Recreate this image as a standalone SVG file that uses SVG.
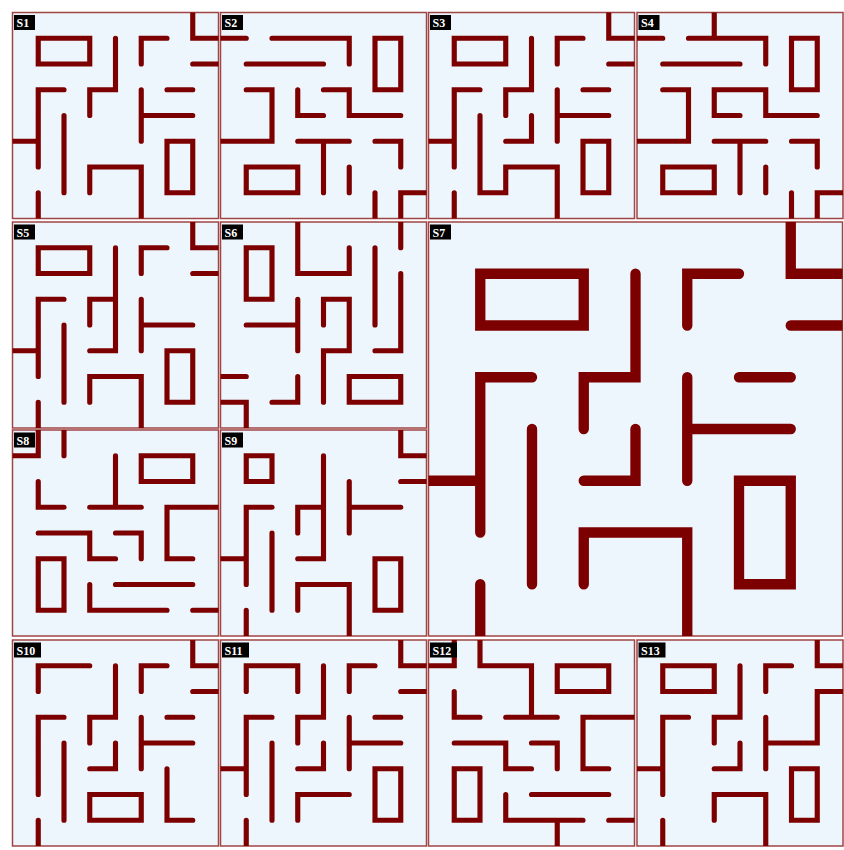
<svg xmlns="http://www.w3.org/2000/svg" width="844" height="850" viewBox="0 0 844 850">
<style>
.bg{fill:#eef6fd;stroke:#a04545;stroke-width:1.5}
.w{fill:none;stroke:#7d0000;stroke-width:0.2;stroke-linecap:round;stroke-linejoin:miter}
.lb{fill:#000}
.lt{fill:#fff;font-family:"Liberation Serif",serif;font-weight:bold;font-size:12px}
</style>
<defs>
<clipPath id="cp" clipPathUnits="userSpaceOnUse"><rect x="0" y="0" width="8" height="8"/></clipPath>
</defs>
<rect width="844" height="850" fill="#fff"/>
<g id="S1" transform="translate(12.5,12.5)">
<rect class="bg" width="206" height="206"/>
<g transform="scale(25.75)" clip-path="url(#cp)"><path class="w" d="M7 0V1H8 M1 1H3V2H1Z M4 1V3H3V4 M6 1H5V2 M7 2H8 M2 3H1V6 M0 5H1 M2 4V7 M6 3H7 M5 3V5 M5 4H7 M6 5H7V7H6Z M3 7V6H5V8 M1 7V8"/></g>
<rect class="lb" x="1.5" y="2.5" width="21" height="15"/><text class="lt" x="4" y="14.5">S1</text>
</g>
<g id="S2" transform="translate(220.5,12.5)">
<rect class="bg" width="206" height="206"/>
<g transform="scale(25.75)" clip-path="url(#cp)"><path class="w" d="M0 1H1 M2 1H5V2 M6 1H7V3H6Z M1 2H4 M1 3H2V5H0 M3 3V4H4 M4 3H5V4H7 M3 5H5 M4 5V7 M6 5H7V6 M1 6H3V7H1Z M5 6V7 M6 7V8 M7 8V7H8"/></g>
<rect class="lb" x="1.5" y="2.5" width="21" height="15"/><text class="lt" x="4" y="14.5">S2</text>
</g>
<g id="S3" transform="translate(428.5,12.5)">
<rect class="bg" width="206" height="206"/>
<g transform="scale(25.75)" clip-path="url(#cp)"><path class="w" d="M7 0V1H8 M1 1H3V2H1Z M4 1V3H3V4 M6 1H5V2 M7 2H8 M2 3H1V6 M0 5H1 M6 3H7 M5 3V5 M5 4H7 M4 4V5H3 M2 4V7H3V6H5V8 M6 5H7V7H6Z M1 7V8"/></g>
<rect class="lb" x="1.5" y="2.5" width="21" height="15"/><text class="lt" x="4" y="14.5">S3</text>
</g>
<g id="S4" transform="translate(637,12.5)">
<rect class="bg" width="206" height="206"/>
<g transform="scale(25.75)" clip-path="url(#cp)"><path class="w" d="M3 0V1 M0 1H1 M2 1H5V2 M6 1H7V3H6Z M1 2H4 M1 3H2V5H0 M4 4H3V3H5V4H7 M3 5H5 M4 5V7 M6 5H7V6 M1 6H3V7H1Z M5 6V7 M6 7V8 M7 8V7H8"/></g>
<rect class="lb" x="1.5" y="2.5" width="21" height="15"/><text class="lt" x="4" y="14.5">S4</text>
</g>
<g id="S5" transform="translate(12.5,222)">
<rect class="bg" width="206" height="206"/>
<g transform="scale(25.75)" clip-path="url(#cp)"><path class="w" d="M7 0V1H8 M1 1H3V2H1Z M4 1V5H3 M4 3H3V4 M6 1H5V2 M7 2H8 M2 3H1V6 M0 5H1 M2 4V7 M5 3V5 M5 4H7 M6 5H7V7H6Z M3 7V6H5V8 M1 7V8"/></g>
<rect class="lb" x="1.5" y="2.5" width="21" height="15"/><text class="lt" x="4" y="14.5">S5</text>
</g>
<g id="S6" transform="translate(220.5,222)">
<rect class="bg" width="206" height="206"/>
<g transform="scale(25.75)" clip-path="url(#cp)"><path class="w" d="M3 0V2H5V1 M1 1H2V3H1Z M6 1V4 M7 0V1 M7 2V5H6 M3 3V5 M1 4H3 M4 4V3H5V5H4V7 M0 6H1 M3 6V7H2 M5 6H7V7H5Z M0 7H1V8"/></g>
<rect class="lb" x="1.5" y="2.5" width="21" height="15"/><text class="lt" x="4" y="14.5">S6</text>
</g>
<g id="S7" transform="translate(428.5,222)">
<rect class="bg" width="414" height="414"/>
<g transform="scale(51.75)" clip-path="url(#cp)"><path class="w" d="M7 0V1H8 M1 1H3V2H1Z M4 1V3H3V4 M6 1H5V2 M7 2H8 M2 3H1V6 M0 5H1 M2 4V7 M6 3H7 M5 3V5 M5 4H7 M4 4V5H3 M6 5H7V7H6Z M3 7V6H5V8 M1 7V8"/></g>
<rect class="lb" x="1.5" y="2.5" width="21" height="15"/><text class="lt" x="4" y="14.5">S7</text>
</g>
<g id="S8" transform="translate(12.5,430)">
<rect class="bg" width="206" height="206"/>
<g transform="scale(25.75)" clip-path="url(#cp)"><path class="w" d="M0 1H1V0 M2 0V1 M4 1V3 M3 3H5 M5 1H7V2H5Z M1 2V3H2 M8 3H6V5H7 M1 4H3V5H4 M4 4H5V5 M1 5H2V7H1Z M4 6H7 M3 6V7H6 M7 7H8"/></g>
<rect class="lb" x="1.5" y="2.5" width="21" height="15"/><text class="lt" x="4" y="14.5">S8</text>
</g>
<g id="S9" transform="translate(220.5,430)">
<rect class="bg" width="206" height="206"/>
<g transform="scale(25.75)" clip-path="url(#cp)"><path class="w" d="M7 0V1H8 M1 1H2V2H1Z M4 1V5H3 M4 3H3V4 M7 2H8 M5 2V4 M5 3H7 M2 3H1V6 M0 5H1 M2 4V7 M6 5H7V7H6Z M3 7V6H5V8 M1 7V8"/></g>
<rect class="lb" x="1.5" y="2.5" width="21" height="15"/><text class="lt" x="4" y="14.5">S9</text>
</g>
<g id="S10" transform="translate(12.5,640)">
<rect class="bg" width="206" height="206"/>
<g transform="scale(25.75)" clip-path="url(#cp)"><path class="w" d="M7 0V1H8 M3 1H1V2 M4 1V3H3V4 M6 1H5V2 M7 2H8 M2 3H1V6 M2 4V7 M6 3H7 M5 3V5 M5 4H7 M4 4V5H3 M6 5V7H7 M3 6H5V7H3Z M1 7V8"/></g>
<rect class="lb" x="1.5" y="2.5" width="27" height="15"/><text class="lt" x="4" y="14.5">S10</text>
</g>
<g id="S11" transform="translate(220.5,640)">
<rect class="bg" width="206" height="206"/>
<g transform="scale(25.75)" clip-path="url(#cp)"><path class="w" d="M7 0V1H8 M1 2V1H3V2 M4 1V3H3V4 M6 1H5V2 M7 2H8 M2 3H1V6 M0 5H1 M2 4V7 M6 3H7 M5 3V5 M5 4H7 M4 4V5H3 M5 6H3V7 M6 5H7V7H6Z M1 7V8"/></g>
<rect class="lb" x="1.5" y="2.5" width="27" height="15"/><text class="lt" x="4" y="14.5">S11</text>
</g>
<g id="S12" transform="translate(428.5,640)">
<rect class="bg" width="206" height="206"/>
<g transform="scale(25.75)" clip-path="url(#cp)"><path class="w" d="M0 1H1V0 M2 0V1H4V3 M3 3H5 M5 1H7V2H5Z M1 2V3H2 M8 3H6V5H7 M1 4H3V5H4 M4 4H5V5 M1 5H2V7H1Z M4 6H7 M3 6V7H6 M5 7V8 M7 7H8"/></g>
<rect class="lb" x="1.5" y="2.5" width="27" height="15"/><text class="lt" x="4" y="14.5">S12</text>
</g>
<g id="S13" transform="translate(637,640)">
<rect class="bg" width="206" height="206"/>
<g transform="scale(25.75)" clip-path="url(#cp)"><path class="w" d="M7 0V1H8 M1 1H3V2H1Z M4 1V3H3V4 M6 1H5V2 M8 2H7V4H5 M5 3V5 M2 3H1V6 M0 5H1 M4 4V5H3 M6 5H7V7H6Z M3 7V6H5V8 M1 7V8"/></g>
<rect class="lb" x="1.5" y="2.5" width="27" height="15"/><text class="lt" x="4" y="14.5">S13</text>
</g>
<g id="connectors"/>
</svg>
